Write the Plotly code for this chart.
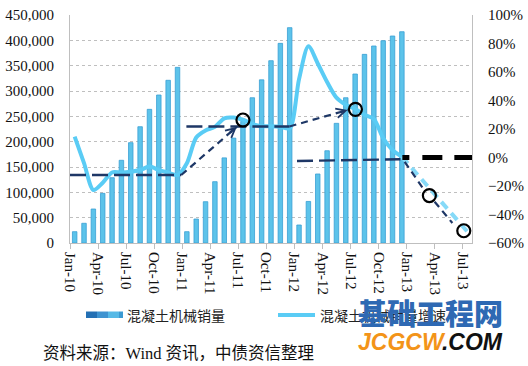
import plotly.graph_objects as go

# ---------------- data ----------------
tick_labels = ["Jan-10", "Apr-10", "Jul-10", "Oct-10", "Jan-11", "Apr-11", "Jul-11",
               "Oct-11", "Jan-12", "Apr-12", "Jul-12", "Oct-12", "Jan-13", "Apr-13", "Jul-13"]
n_months = 43  # Jan-10 .. Jul-13

sales_2010 = [22300, 38900, 67100, 98000, 128900, 163200, 198000, 229500, 263800, 292100, 321100, 346700]
sales_2011 = [22300, 47300, 81500, 121000, 168000, 207000, 240000, 286700, 322000, 359800, 394000, 425000]
sales_2012 = [35500, 82000, 136200, 182100, 236200, 286700, 333500, 372300, 388800, 399300, 408500, 417000]
sales = sales_2010 + sales_2011 + sales_2012

growth_2010 = [14.6, -4.0, -22.8, -17.7, -10.5, -10.6, -10.0, -8.8, -6.4, -8.8, -10.6, -12.3]
growth_2011 = [-4.0, 14.0, 19.0, 21.5, 27.5, 28.0, 26.5, 23.5, 22.0, 22.0, 21.5, 20.5]
growth_2012 = [55.0, 78.0, 66.0, 53.0, 42.0, 37.0, 34.0, 30.0, 27.0, 13.5, 5.3, 0.6]
growth = growth_2010 + growth_2011 + growth_2012

proj_idx = [35, 42]          # Dec-12 -> Jul-13 (forecast, dashed)
proj_growth = [0.6, -52.0]

bar_name = "混凝土机械销量"
line_name = "混凝土机械销量增速"
source_text = "资料来源：Wind 资讯，中债资信整理"

# ---------------- styling ----------------
BAR = "#5CC3EA"
BAR_EDGE = "#3A9FD4"
LINE = "#5ACCF5"
PROJ = "#86DAF8"
NAVY = "#1E3766"
GRID = "#BFBFBF"
SERIF = "Liberation Serif, Times New Roman, serif"
CJK = "Noto Sans CJK SC, sans-serif"

W, H = 528, 366
# plot area in page pixels: x 70..472, y 15..243
PL, PR, PT, PB = 70, 472, 15, 243
ML, MT = PL, PT
MR, MB = W - PR, H - PB
PW, PH = PR - PL, PB - PT


def px(xp):
    return (xp - PL) / PW


def py(yp):
    return (PB - yp) / PH


idx = list(range(len(sales)))
tickvals = [3 * i - 0.5 for i in range(len(tick_labels))]

fig = go.Figure()
fig.add_trace(go.Bar(x=idx, y=sales, name=bar_name, width=0.48,
                     marker=dict(color=BAR, line=dict(color=BAR_EDGE, width=0.8)),
                     showlegend=False))
fig.add_trace(go.Scatter(x=idx, y=growth, name=line_name, yaxis="y2", mode="lines",
                         line=dict(color=LINE, width=4, shape="spline", smoothing=0.8),
                         showlegend=False))
fig.add_trace(go.Scatter(x=proj_idx, y=proj_growth, yaxis="y2", mode="lines",
                         line=dict(color=PROJ, width=4, dash="9px,6px"),
                         showlegend=False, hoverinfo="skip"))

shapes = []
annotations = []


def seg(x0, y0, x1, y1, dash, width=2.4, color=NAVY):
    shapes.append(dict(type="line", xref="x", yref="y2", x0=x0, y0=y0, x1=x1, y1=y1,
                       line=dict(color=color, width=width, dash=dash)))


def arrow(x0, y0, x1, y1):
    seg(x0, y0, x1, y1, "7px,5px", width=2.2)
    tx = x1 - 0.15 * (x1 - x0)
    ty = y1 - 0.15 * (y1 - y0)
    annotations.append(dict(x=x1, y=y1, xref="x", yref="y2", ax=tx, ay=ty,
                            axref="x", ayref="y2", text="", showarrow=True,
                            arrowhead=5, arrowsize=0.85, arrowwidth=2.2,
                            arrowcolor=NAVY, standoff=0))


def ring(cx, cy, r=6.5):
    shapes.append(dict(type="circle", xref="x", yref="y2", xsizemode="pixel",
                       ysizemode="pixel", xanchor=cx, yanchor=cy,
                       x0=-r, x1=r, y0=-r, y1=r,
                       line=dict(color="black", width=2.2),
                       fillcolor="rgba(0,0,0,0)"))


# trend annotations (hand-drawn in the original)
seg(-0.5, -12.3, 11.4, -12.3, "16px,6px")
arrow(11.4, -12.3, 17.35, 21.6)
seg(11.95, 21.8, 22.98, 21.8, "16px,6px")
arrow(22.98, 21.8, 29.2, 33.3)
seg(23.78, -2.5, 34.85, -1.2, "16px,6px")
shapes.append(dict(type="line", xref="x", yref="y2", x0=35.05, y0=0, x1=42.5, y1=0,
                   line=dict(color="black", width=5, dash="7px,13px,20px,12px,20px,12px")))
arrow(35.3, -3.0, 37.3, -22.0)
arrow(38.5, -31.0, 40.4, -46.0)
ring(18, 26.3)
ring(30.03, 33.8)
ring(37.94, -26.7)
ring(41.62, -51.4)

# manual legend
for a, b, c in [(86, 97, "#2470B4"), (97, 108, "#3E93D0"), (108, 119, "#56B9E6"), (119, 123, "#3C9AD2")]:
    shapes.append(dict(type="rect", xref="paper", yref="paper", x0=px(a), x1=px(b),
                       y0=py(318), y1=py(311.5), line=dict(width=0), fillcolor=c))
shapes.append(dict(type="line", xref="paper", yref="paper", x0=px(278), x1=px(315),
                   y0=py(315), y1=py(315), line=dict(color=LINE, width=4)))
annotations.append(dict(xref="paper", yref="paper", x=px(125), y=py(315), xanchor="left",
                        yanchor="middle", text=bar_name, showarrow=False,
                        font=dict(family=CJK, size=14, color="#222")))
annotations.append(dict(xref="paper", yref="paper", x=px(318), y=py(315), xanchor="left",
                        yanchor="middle", text=line_name, showarrow=False,
                        font=dict(family=CJK, size=14, color="#222")))
# source note
annotations.append(dict(xref="paper", yref="paper", x=px(41), y=py(353), xanchor="left",
                        yanchor="middle", text=source_text, showarrow=False,
                        font=dict(family="Liberation Serif, Noto Sans CJK SC", size=16.5, color="#111")))
# watermark
annotations.append(dict(xref="paper", yref="paper", x=px(430), y=py(312), xanchor="center",
                        yanchor="middle", text="基础工程网", showarrow=False,
                        font=dict(family=CJK, size=29, color="#2E69B3", weight=900)))
annotations.append(dict(xref="paper", yref="paper", x=px(430), y=py(342), xanchor="center",
                        yanchor="middle",
                        text="<b><i><span style='color:#F39419'>JCGCW</span>.COM</i></b>",
                        showarrow=False,
                        font=dict(family="Liberation Sans, Arial", size=23, color="#111")))

fig.update_layout(
    width=W, height=H, margin=dict(l=ML, r=MR, t=MT, b=MB, pad=0, autoexpand=False),
    paper_bgcolor="white", plot_bgcolor="white",
    bargap=0.5, showlegend=False, hovermode=False,
    shapes=shapes, annotations=annotations,
    xaxis=dict(range=[-0.5, n_months - 0.5], tickmode="array", tickvals=tickvals,
               ticktext=tick_labels, tickangle=90, ticks="outside", ticklen=5,
               tickcolor=GRID, showline=True, linecolor=GRID, linewidth=1,
               showgrid=False, zeroline=False, automargin=False,
               tickfont=dict(family=SERIF, size=15, color="#111")),
    yaxis=dict(range=[0, 450000], dtick=50000, tickformat=",", showline=True,
               linecolor=GRID, linewidth=1, showgrid=True, gridcolor=GRID,
               griddash="dot", gridwidth=1, zeroline=False, ticks="",
               ticklabelstandoff=12, automargin=False, ticklabeloverflow="allow",
               tickfont=dict(family=SERIF, size=15, color="#111")),
    yaxis2=dict(range=[-60, 100], dtick=20, ticksuffix="%", overlaying="y", side="right",
                showline=True, linecolor=GRID, linewidth=1, showgrid=False,
                zeroline=False, ticks="", ticklabelstandoff=12, automargin=False,
                ticklabeloverflow="allow",
                tickfont=dict(family=SERIF, size=15, color="#111")),
)

fig.write_html("out.html", config={"displayModeBar": False},
               post_script="document.body.style.margin='0';")
